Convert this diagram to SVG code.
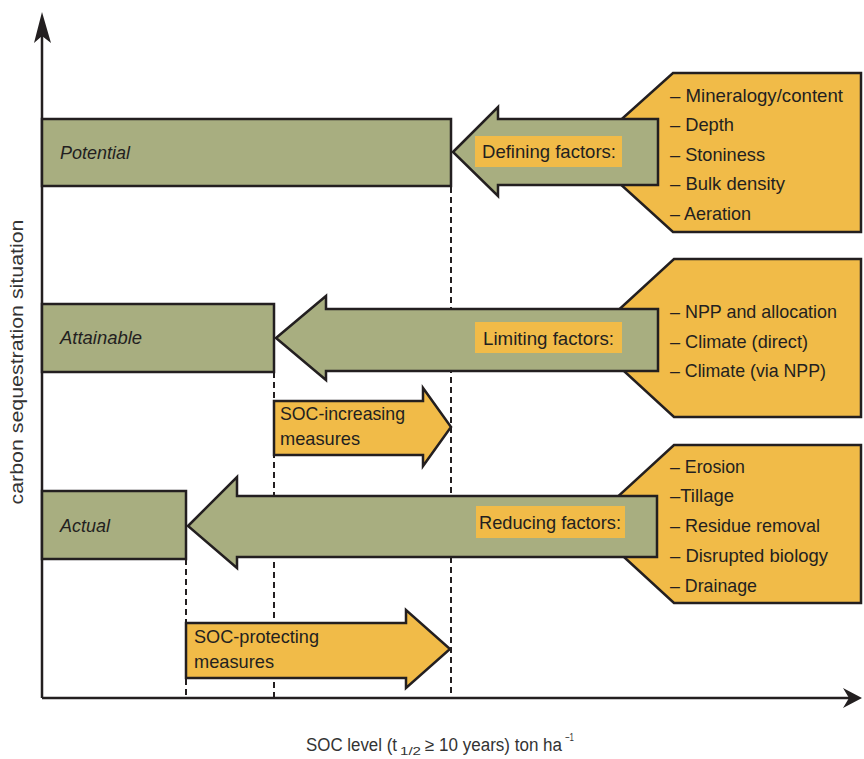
<svg xmlns="http://www.w3.org/2000/svg" width="864" height="759" viewBox="0 0 864 759">
<style>
.g{fill:#a8ae80;stroke:#231f20;stroke-width:2.5;stroke-linejoin:miter}
.o{fill:#f1bb48;stroke:#231f20;stroke-width:2.5;stroke-linejoin:miter}
.lb{fill:#f1bb48;stroke:none}
.t{font-family:"Liberation Sans",Arial,sans-serif;font-size:19px;fill:#231f20}
.i{font-family:"Liberation Sans",Arial,sans-serif;font-size:18px;font-style:italic;fill:#231f20}
.ax{stroke:#231f20;stroke-width:2.5;fill:none}
.d{stroke:#231f20;stroke-width:2;stroke-dasharray:6 4;fill:none}
.al{font-family:"Liberation Sans",Arial,sans-serif;font-size:18px;fill:#333}
</style>
<rect width="864" height="759" fill="#fff"/>
<g id="connectors">
<line class="d" x1="451" y1="187" x2="451" y2="697"/>
<line class="d" x1="274" y1="372" x2="274" y2="697"/>
<line class="d" x1="186" y1="559" x2="186" y2="697"/>
</g>
<g id="axes">
<line class="ax" x1="42" y1="698" x2="42" y2="30"/>
<polygon points="42,12 51,43 42,36 34,43" fill="#231f20"/>
<line class="ax" x1="42" y1="698" x2="850" y2="698"/>
<polygon points="862,698 843,708 849,698 843,688" fill="#231f20"/>
<text class="al" transform="translate(23,362) rotate(-90)" text-anchor="middle" textLength="285" lengthAdjust="spacingAndGlyphs">carbon sequestration situation</text>
<text class="al" y="751"><tspan x="306" textLength="91" lengthAdjust="spacingAndGlyphs">SOC level (t</tspan><tspan x="400" y="755" font-size="11" textLength="21" lengthAdjust="spacingAndGlyphs">1/2</tspan><tspan x="425" y="751" textLength="137" lengthAdjust="spacingAndGlyphs">≥ 10 years) ton ha</tspan><tspan x="565" y="741" font-size="11" textLength="9" lengthAdjust="spacingAndGlyphs">−1</tspan></text>
</g>
<g id="potential">
<rect class="g" x="42" y="119" width="409" height="67"/>
<text class="i" x="60" y="159" textLength="70" lengthAdjust="spacingAndGlyphs">Potential</text>
</g>
<g id="attainable">
<rect class="g" x="42" y="304" width="232" height="68"/>
<text class="i" x="60" y="344" textLength="82" lengthAdjust="spacingAndGlyphs">Attainable</text>
</g>
<g id="actual">
<rect class="g" x="42" y="491" width="144" height="68"/>
<text class="i" x="60" y="532" textLength="50" lengthAdjust="spacingAndGlyphs">Actual</text>
</g>
<g id="defining">
<polygon class="o" points="673,73 861,73 861,232 673,232 585,152"/>
<polygon class="g" points="453,152 498,107 498,119 658,119 658,185 498,185 498,196"/>
<rect class="lb" x="475" y="136" width="147" height="31"/>
<text class="t" x="482" y="158" textLength="134" lengthAdjust="spacingAndGlyphs">Defining factors:</text>
<text class="t" x="670" y="102" textLength="173" lengthAdjust="spacingAndGlyphs">– Mineralogy/content</text>
<text class="t" x="670" y="131" textLength="64" lengthAdjust="spacingAndGlyphs">– Depth</text>
<text class="t" x="670" y="161" textLength="95" lengthAdjust="spacingAndGlyphs">– Stoniness</text>
<text class="t" x="670" y="190" textLength="115" lengthAdjust="spacingAndGlyphs">– Bulk density</text>
<text class="t" x="670" y="220" textLength="81" lengthAdjust="spacingAndGlyphs">– Aeration</text>
</g>
<g id="limiting">
<polygon class="o" points="674,259 861,259 861,417 674,417 588,338"/>
<polygon class="g" points="276,338 326,296 326,309 658,309 658,371 326,371 326,380"/>
<rect class="lb" x="475" y="322" width="147" height="31"/>
<text class="t" x="483" y="345" textLength="131" lengthAdjust="spacingAndGlyphs">Limiting factors:</text>
<text class="t" x="670" y="318" textLength="167" lengthAdjust="spacingAndGlyphs">– NPP and allocation</text>
<text class="t" x="670" y="348" textLength="138" lengthAdjust="spacingAndGlyphs">– Climate (direct)</text>
<text class="t" x="670" y="377" textLength="156" lengthAdjust="spacingAndGlyphs">– Climate (via NPP)</text>
</g>
<g id="reducing">
<polygon class="o" points="674,445 861,445 861,603 674,603 588,524"/>
<polygon class="g" points="188,526 237,477 237,496 657,496 657,557 237,557 237,568"/>
<rect class="lb" x="476" y="506" width="149" height="32"/>
<text class="t" x="479" y="529" textLength="142" lengthAdjust="spacingAndGlyphs">Reducing factors:</text>
<text class="t" x="670" y="473" textLength="75" lengthAdjust="spacingAndGlyphs">– Erosion</text>
<text class="t" x="670" y="502" textLength="64" lengthAdjust="spacingAndGlyphs">–Tillage</text>
<text class="t" x="670" y="532" textLength="150" lengthAdjust="spacingAndGlyphs">– Residue removal</text>
<text class="t" x="670" y="562" textLength="158" lengthAdjust="spacingAndGlyphs">– Disrupted biology</text>
<text class="t" x="670" y="592" textLength="87" lengthAdjust="spacingAndGlyphs">– Drainage</text>
</g>
<g id="soc-increasing">
<polygon class="o" points="274,401 423,401 423,388 451,427 423,466 423,455 274,455"/>
<text class="t" x="280" y="420" textLength="125" lengthAdjust="spacingAndGlyphs">SOC-increasing</text>
<text class="t" x="280" y="445" textLength="80" lengthAdjust="spacingAndGlyphs">measures</text>
</g>
<g id="soc-protecting">
<polygon class="o" points="186,623 406,623 406,610 450,649 406,688 406,678 186,678"/>
<text class="t" x="194" y="643" textLength="125" lengthAdjust="spacingAndGlyphs">SOC-protecting</text>
<text class="t" x="194" y="668" textLength="80" lengthAdjust="spacingAndGlyphs">measures</text>
</g>
</svg>
